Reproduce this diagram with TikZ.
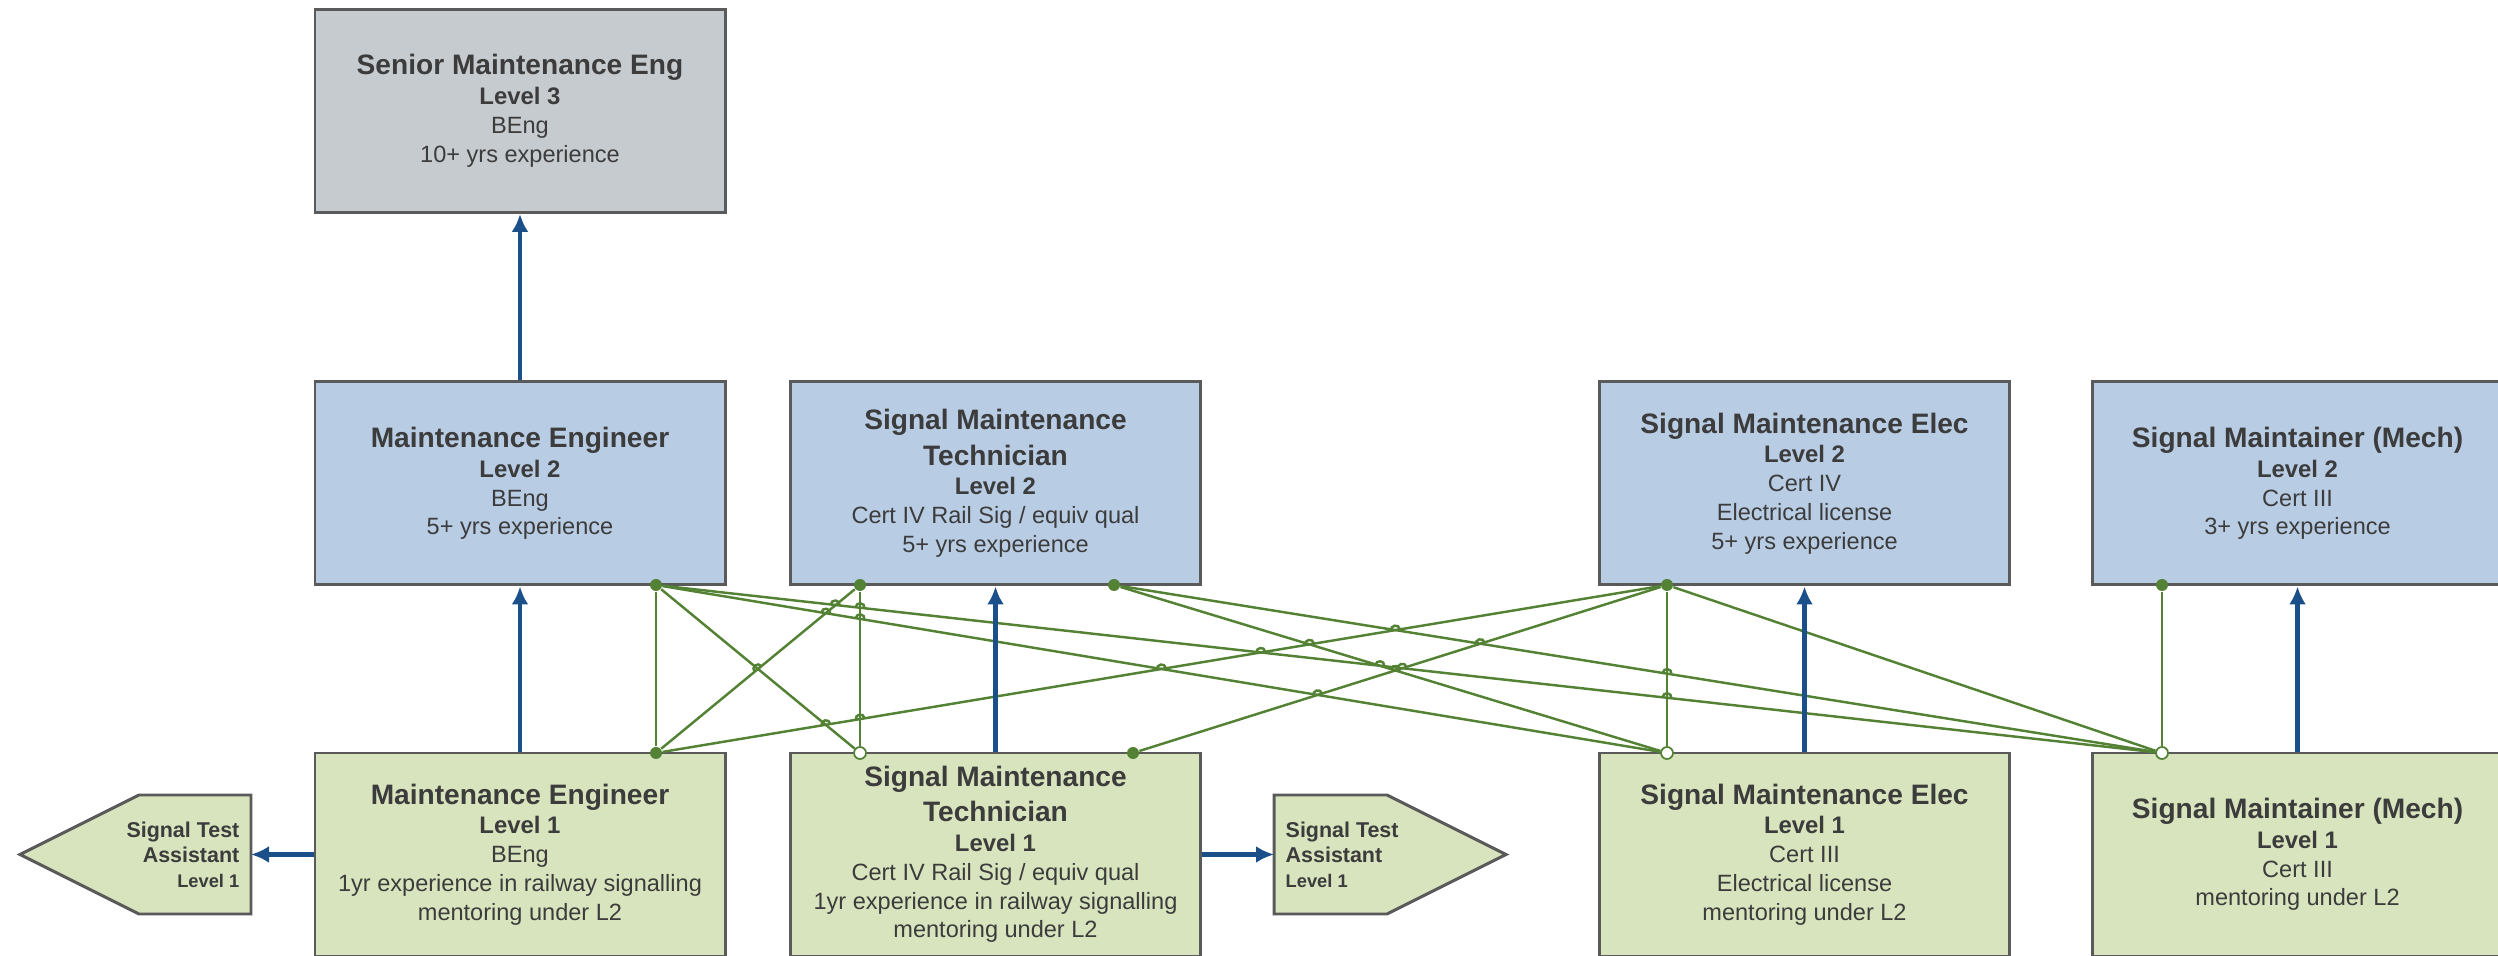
\documentclass[tikz,border=0pt]{standalone}
\usepackage{fontspec}
\setmainfont{Liberation Sans}
\usetikzlibrary{arrows.meta,positioning,calc}
\definecolor{cazul}{HTML}{B8CCE4}
\definecolor{cverde}{HTML}{D7E4BD}
\definecolor{cgris}{HTML}{C6CBCF}
\definecolor{cborde}{HTML}{5A5A5A}
\definecolor{ctexto}{HTML}{3C3C3C}
\definecolor{cflecha}{HTML}{1B4F8A}
\definecolor{clinea}{HTML}{548235}
\newcommand{\ftit}{\fontsize{8}{10}\selectfont\bfseries}
\newcommand{\fniv}{\fontsize{6.8}{8.2}\selectfont\bfseries}
\tikzset{
  bloque/.style={draw=cborde,fill=cazul,line width=0.85pt,align=center,text=ctexto,
                 minimum width=4.1cm,minimum height=2.03cm,inner sep=2pt,
                 font=\fontsize{6.7}{8.2}\selectfont},
  bloquev/.style={bloque,fill=cverde},
  bloqueg/.style={bloque,fill=cgris},
  sta/.style={draw=cborde,fill=cverde,line width=0.85pt},
  etsta/.style={font=\fontsize{6.1}{7.1}\selectfont\bfseries,text=ctexto,inner xsep=1.1mm},
  flecha/.style={-{Latex[length=1.8mm,width=1.7mm]},draw=cflecha,line width=1.4pt},
  linea/.style={draw=clinea,line width=0.7pt},
  lineaf/.style={draw=clinea,line width=0.45pt},
  punto/.style={circle,fill=clinea,inner sep=0pt,minimum size=1.2mm},
  puntoa/.style={circle,draw=clinea,fill=white,line width=0.5pt,inner sep=0pt,minimum size=1.2mm},
}
% linea con saltos semicirculares en las fracciones dadas
\newcommand{\salto}[3]{%
  \draw[linea] (#1) \foreach \f in {#3}{%
    -- ($(#1)!\f!(#2)!0.045cm!(#1)$) to[bend left=90,looseness=1.7] ($(#1)!\f!(#2)!0.045cm!(#2)$)}
    -- (#2);}

\begin{document}
\begin{tikzpicture}[x=1cm,y=1cm]
\useasboundingbox (0,0) rectangle (24.98,9.56);
\clip (0,0) rectangle (24.98,9.56);

\node[bloqueg] (sen) at (5.20,8.45)
  {{\ftit Senior Maintenance Eng}\\[0.3pt] {\fniv Level 3}\\ BEng\\ 10+ yrs experience};

\node[bloque] (me2) at (5.20,4.725)
  {{\ftit Maintenance Engineer}\\[0.3pt] {\fniv Level 2}\\ BEng\\ 5+ yrs experience};
\node[bloque] (smt2) at (9.955,4.725)
  {{\ftit Signal Maintenance}\\[1.8pt] {\ftit Technician}\\[0.3pt] {\fniv Level 2}\\
   Cert IV Rail Sig / equiv qual\\ 5+ yrs experience};
\node[bloque] (sme2) at (18.045,4.725)
  {{\ftit Signal Maintenance Elec}\\[0.3pt] {\fniv Level 2}\\ Cert IV\\ Electrical license\\ 5+ yrs experience};
\node[bloque] (smm2) at (22.975,4.725)
  {{\ftit Signal Maintainer (Mech)}\\[0.3pt] {\fniv Level 2}\\ Cert III\\ 3+ yrs experience};

\node[bloquev] (me1) at (5.20,1.015)
  {{\ftit Maintenance Engineer}\\[0.3pt] {\fniv Level 1}\\ BEng\\
   1yr experience in railway signalling\\ mentoring under L2};
\node[bloquev] (smt1) at (9.955,1.015)
  {{\ftit Signal Maintenance}\\[1.8pt] {\ftit Technician}\\[0.3pt] {\fniv Level 1}\\
   Cert IV Rail Sig / equiv qual\\ 1yr experience in railway signalling\\ mentoring under L2};
\node[bloquev] (sme1) at (18.045,1.015)
  {{\ftit Signal Maintenance Elec}\\[0.3pt] {\fniv Level 1}\\ Cert III\\ Electrical license\\ mentoring under L2};
\node[bloquev] (smm1) at (22.975,1.015)
  {{\ftit Signal Maintainer (Mech)}\\[0.3pt] {\fniv Level 1}\\ Cert III\\ mentoring under L2};

\draw[sta] (0.20,1.015) -- (1.39,1.61) -- (2.51,1.61) -- (2.51,0.42) -- (1.39,0.42) -- cycle;
\node[etsta,anchor=east,align=right] (staL) at (2.51,1.015)
  {Signal Test\\ Assistant\\ {\fontsize{5.2}{7.1}\selectfont Level 1}};
\draw[sta] (12.74,1.61) -- (13.87,1.61) -- (15.06,1.015) -- (13.87,0.42) -- (12.74,0.42) -- cycle;
\node[etsta,anchor=west,align=left] (staR) at (12.74,1.015)
  {Signal Test\\ Assistant\\ {\fontsize{5.2}{7.1}\selectfont Level 1}};

\node[punto] (me2p)  at (6.56,3.71) {};
\node[punto] (smt2a) at (8.60,3.71) {};
\node[punto] (smt2b) at (11.14,3.71) {};
\node[punto] (sme2p) at (16.67,3.71) {};
\node[punto] (smm2p) at (21.62,3.71) {};
\node[punto]  (me1p)  at (6.56,2.03) {};
\node[puntoa] (smt1a) at (8.60,2.03) {};
\node[punto]  (smt1b) at (11.33,2.03) {};
\node[puntoa] (sme1p) at (16.67,2.03) {};
\node[puntoa] (smm1p) at (21.62,2.03) {};

\draw[lineaf] (me2p) -- (me1p);
\draw[lineaf] (smt2a) -- (smt1a);
\draw[lineaf] (sme2p) -- (sme1p);
\draw[lineaf] (smm2p) -- (smm1p);
\draw[linea] (me2p) -- (smt1a);
\draw[linea] (sme2p) -- (smm1p);
\salto{me2p}{sme1p}{0.168,0.2018}
\salto{me2p}{smm1p}{0.119,0.1355,0.4806,0.6713}
\salto{smt2b}{sme1p}{0.5087}
\salto{smt2b}{smm1p}{0.5277}
\salto{me1p}{smt2a}{0.5}
\salto{me1p}{sme2p}{0.168,0.202,0.5,0.5983,0.6464,0.7314}
\salto{smt1b}{sme2p}{0.346,0.5044,0.6504}

\draw[flecha] (me2.north) -- (sen.south);
\draw[flecha] (me1.north) -- (me2.south);
\draw[flecha] (smt1.north) -- (smt2.south);
\draw[flecha] (sme1.north) -- (sme2.south);
\draw[flecha] (smm1.north) -- (smm2.south);
\draw[flecha] (me1.west) -- (staL.east);
\draw[flecha] (smt1.east) -- (staR.west);

\end{tikzpicture}
\end{document}
